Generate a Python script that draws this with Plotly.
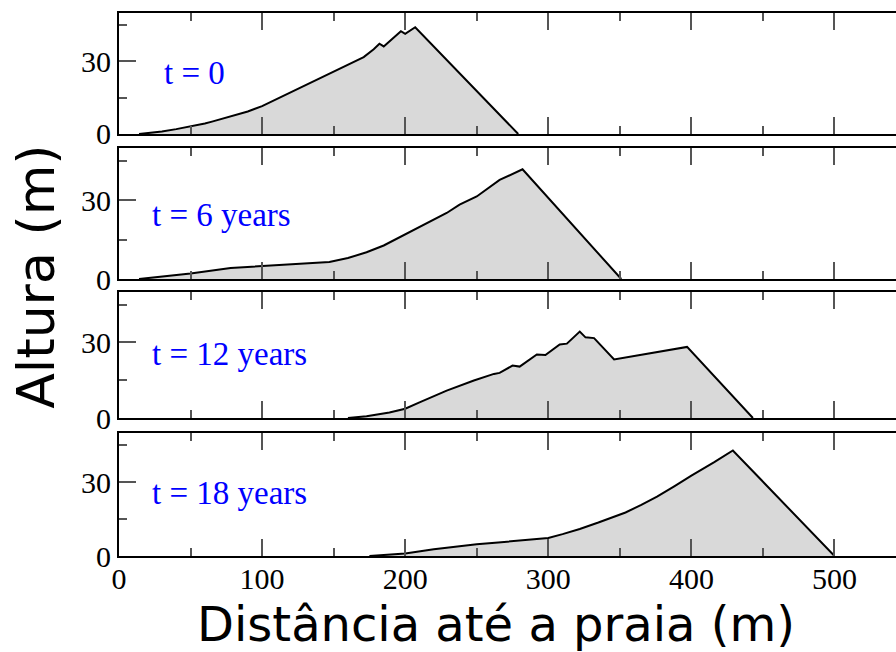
import plotly.graph_objects as go

# Dune profiles: distance from the beach (m) vs. height (m) at four times
x_t0 = [14, 30, 40, 50, 60, 65, 75, 80, 90, 100, 113, 126, 138, 150, 160, 171, 178, 182, 185, 190, 197, 200, 207, 279]
y_t0 = [0, 1.0, 2.0, 3.0, 4.3, 5.1, 6.8, 7.6, 9.3, 11.5, 15.2, 19, 22.5, 26, 28.8, 31.8, 35, 37.3, 36.2, 39, 42.5, 41.4, 44.1, 0]

x_t6 = [14, 30, 50, 78, 100, 136, 147, 160, 173, 185, 196, 212, 229, 238, 250, 266, 273, 282, 351]
y_t6 = [0, 1.0, 2.1, 4.2, 4.9, 5.9, 6.5, 8.0, 10.2, 12.8, 15.9, 20.5, 25.2, 28.4, 31.5, 37.8, 39.6, 41.9, 0]

x_t12 = [160, 173, 189, 200, 210, 220, 229, 248, 262, 266, 275, 280, 292, 298, 308, 313, 322, 326, 332, 346, 397, 443]
y_t12 = [0, 0.7, 2.2, 3.7, 6.2, 8.7, 10.9, 14.9, 17.5, 17.9, 20.8, 20.4, 25.2, 25.0, 29.2, 29.5, 34.3, 32.0, 31.7, 23.2, 28.2, 0]

x_t18 = [175, 200, 220, 250, 265, 278, 300, 310, 322, 335, 354, 365, 376, 388, 400, 416, 429, 500]
y_t18 = [0, 1.0, 2.7, 4.8, 5.5, 6.1, 7.3, 8.9, 11.0, 13.6, 17.7, 20.8, 24.1, 28.3, 32.7, 38.2, 42.9, 0]

labels = ["t = 0", "t = 6 years", "t = 12 years", "t = 18 years"]
profiles = [(x_t0, y_t0), (x_t6, y_t6), (x_t12, y_t12), (x_t18, y_t18)]

# vertical extent of each panel (paper coords), top panel first
domains = [[0.7772, 1.0], [0.5101, 0.7514], [0.2541, 0.4862], [0.0, 0.2265]]
label_pos = [(30, 25), (22, 24.5), (22, 25.5), (22, 25.5)]

serif = "Liberation Serif"
tick_font = dict(family=serif, size=30, color="black")
fig = go.Figure()

for i, (xs, ys) in enumerate(profiles):
    n = "" if i == 0 else str(i + 1)
    fig.add_trace(go.Scatter(
        x=xs, y=ys, mode="lines", fill="tozeroy",
        fillcolor="#d9d9d9", line=dict(color="black", width=2),
        xaxis="x" + n, yaxis="y" + n, showlegend=False, hoverinfo="skip",
    ))
    fig.add_annotation(
        x=label_pos[i][0], y=label_pos[i][1], xref="x" + n, yref="y" + n,
        text=labels[i], showarrow=False, xanchor="left", yanchor="middle",
        font=dict(family=serif, size=33, color="#0000ff"),
    )

    xaxis = dict(
        range=[0, 543], anchor="y" + n, domain=[0, 1],
        showline=True, linecolor="black", linewidth=2, mirror="ticks",
        ticks="inside", ticklen=17, tickwidth=1.5, tickcolor="#555555",
        dtick=100, tick0=0,
        minor=dict(ticks="inside", ticklen=8, dtick=50, tickwidth=1.5, tickcolor="#555555"),
        showgrid=False, zeroline=False,
        showticklabels=(i == 3),
        ticklabelstandoff=-5,
        tickfont=tick_font,
    )
    if i > 0:
        xaxis["matches"] = "x"
    yaxis = dict(
        range=[0, 50], anchor="x" + n, domain=domains[i],
        showline=True, linecolor="black", linewidth=2,
        ticks="inside", ticklen=17, tickwidth=1.5, tickcolor="#555555",
        dtick=30, tick0=0,
        minor=dict(ticks="inside", ticklen=8, dtick=15, tickwidth=1.5, tickcolor="#555555"),
        showgrid=False, zeroline=False,
        tickfont=tick_font,
    )
    fig.update_layout({"xaxis" + n: xaxis, "yaxis" + n: yaxis})

fig.add_annotation(
    x=0.485, y=-0.125, xref="paper", yref="paper",
    text="Distância até a praia (m)", showarrow=False,
    xanchor="center", yanchor="middle",
    font=dict(family="DejaVu Sans", size=48, color="black"),
)
fig.add_annotation(
    x=-0.107, y=0.514, xref="paper", yref="paper",
    text="Altura (m)", showarrow=False, textangle=-90,
    xanchor="center", yanchor="middle",
    font=dict(family="DejaVu Sans", size=52, color="black"),
)

fig.update_layout(
    width=896, height=652,
    margin=dict(l=119, r=0, t=13, b=96),
    paper_bgcolor="white", plot_bgcolor="white",
)

fig.write_html("out.html")
